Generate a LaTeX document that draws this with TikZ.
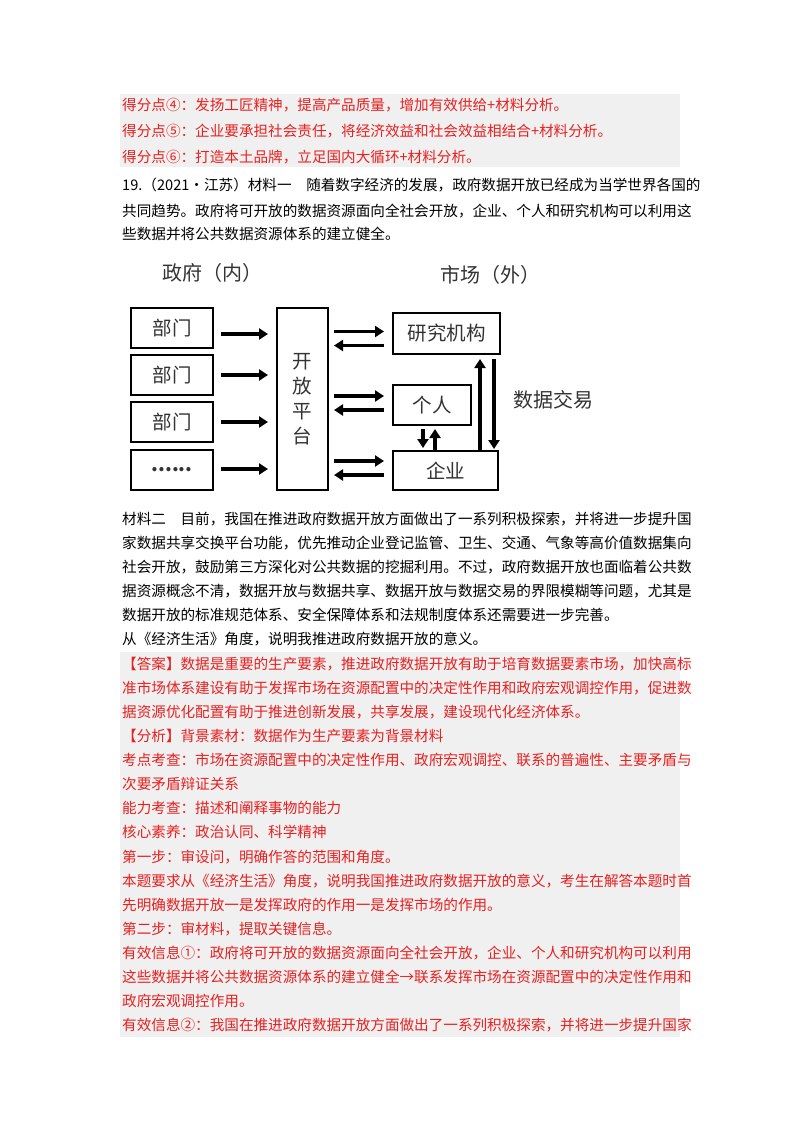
\documentclass[tikz,border=0pt]{standalone}
\usepackage{fontspec}
\setmainfont{Noto Sans CJK SC}
\newfontfamily\cjk{Noto Sans CJK SC}
\usetikzlibrary{arrows.meta}
\definecolor{ansred}{RGB}{232,32,32}
\definecolor{band}{RGB}{240,240,240}
\begin{document}
\begin{tikzpicture}[x=1pt,y=-1pt,
  rl/.style={anchor=west,inner sep=0,text=ansred,font=\cjk\fontsize{14.6}{15}\selectfont},
  bl/.style={anchor=west,inner sep=0,text=black,font=\cjk\fontsize{14.6}{15}\selectfont},
  box/.style={draw,line width=2pt,inner sep=0,font=\cjk\fontsize{19.5}{19.5}\selectfont,text=black!80},
  arr/.style={line width=3.2pt,-{Triangle[length=9pt,width=11pt]}}]
\useasboundingbox (0,0) rectangle (800,1132);
\fill[white] (0,0) rectangle (800,1132);
\fill[band] (120,94) rectangle (680,167);
\fill[band] (120,652) rectangle (680,1037);
% top lines
\node[rl] (t1) at (122,105) {得分点④：发扬工匠精神，提高产品质量，增加有效供给+材料分析。};
\node[rl] (t2) at (122,131) {得分点⑤：企业要承担社会责任，将经济效益和社会效益相结合+材料分析。};
\node[rl] (t3) at (122,157) {得分点⑥：打造本土品牌，立足国内大循环+材料分析。};
\node[bl] (q1) at (122,185) {19.（2021·江苏）材料一\quad 随着数字经济的发展，政府数据开放已经成为当学世界各国的};
\node[bl] (q2) at (122,211) {共同趋势。政府将可开放的数据资源面向全社会开放，企业、个人和研究机构可以利用这};
\node[bl] (q3) at (122,234) {些数据并将公共数据资源体系的建立健全。};
% diagram
\node[font=\cjk\fontsize{20}{20}\selectfont,text=black!80] (hg) at (212,273) {政府（内）};
\node[font=\cjk\fontsize{20}{20}\selectfont,text=black!80] (hm) at (490,275) {市场（外）};
\node[box,minimum width=82,minimum height=40] (b1) at (172,328) {部门};
\node[box,minimum width=82,minimum height=40] (b2) at (172,375) {部门};
\node[box,minimum width=82,minimum height=40] (b3) at (172,422) {部门};
\node[box,minimum width=82,minimum height=40] (b4) at (172,470) {\textbf{......}};
\node[box,minimum width=51,minimum height=182,align=center,font=\cjk\fontsize{19.5}{25}\selectfont] (pl) at (302.5,399) {开\\放\\平\\台};
\node[box,minimum width=107,minimum height=41] (r) at (446.5,333.5) {研究机构};
\node[box,minimum width=78,minimum height=40] (p) at (432,405) {个人};
\node[box,minimum width=105,minimum height=39] (e) at (445.5,470.5) {企业};
\node[font=\cjk\fontsize{20}{20}\selectfont,text=black!80] (dx) at (553,400) {数据交易};
\foreach \b/\dy in {b1/-6,b2/0,b3/0,b4/1}{
  \draw[arr] ([xshift=7,yshift=\dy]\b.east) -- ([xshift=-8,yshift=\dy]\b.east -| pl.west);
}
\foreach \n/\ya/\yb in {r/2/-12,p/9/-5,e/9.5/-4.5}{
  \draw[arr] ([xshift=5,yshift=\ya]\n.west -| pl.east) -- ([xshift=-8,yshift=\ya]\n.west);
  \draw[arr] ([xshift=-8,yshift=\yb]\n.west) -- ([xshift=5,yshift=\yb]\n.west -| pl.east);
}
\draw[arr] ([xshift=-9,yshift=-3]p.south) -- ([xshift=-9,yshift=2]p.south |- e.north);
\draw[arr] ([xshift=3,yshift=-1]p.south |- e.north) -- ([xshift=3,yshift=-3]p.south);
\draw[arr] ([xshift=34.5,yshift=-1]e.north) -- ([xshift=34.5,yshift=-4]e.north |- r.south);
\draw[arr] ([xshift=47.5,yshift=-4]r.south) -- ([xshift=47.5,yshift=1]r.south |- e.north);
% material 2
\node[bl] (m1) at (122,519) {材料二\quad 目前，我国在推进政府数据开放方面做出了一系列积极探索，并将进一步提升国};
\node[bl] (m2) at (122,543) {家数据共享交换平台功能，优先推动企业登记监管、卫生、交通、气象等高价值数据集向};
\node[bl] (m3) at (122,567) {社会开放，鼓励第三方深化对公共数据的挖掘利用。不过，政府数据开放也面临着公共数};
\node[bl] (m4) at (122,591) {据资源概念不清，数据开放与数据共享、数据开放与数据交易的界限模糊等问题，尤其是};
\node[bl] (m5) at (122,615) {数据开放的标准规范体系、安全保障体系和法规制度体系还需要进一步完善。};
\node[bl] (m6) at (122,639) {从《经济生活》角度，说明我推进政府数据开放的意义。};
% answer
\node[rl] (a1) at (122,664) {【答案】数据是重要的生产要素，推进政府数据开放有助于培育数据要素市场，加快高标};
\node[rl] (a2) at (122,688) {准市场体系建设有助于发挥市场在资源配置中的决定性作用和政府宏观调控作用，促进数};
\node[rl] (a3) at (122,712) {据资源优化配置有助于推进创新发展，共享发展，建设现代化经济体系。};
\node[rl] (a4) at (122,736) {【分析】背景素材：数据作为生产要素为背景材料};
\node[rl] (a5) at (122,760) {考点考查：市场在资源配置中的决定性作用、政府宏观调控、联系的普遍性、主要矛盾与};
\node[rl] (a6) at (122,784) {次要矛盾辩证关系};
\node[rl] (a7) at (122,808) {能力考查：描述和阐释事物的能力};
\node[rl] (a8) at (122,832) {核心素养：政治认同、科学精神};
\node[rl] (a9) at (122,857) {第一步：审设问，明确作答的范围和角度。};
\node[rl] (a10) at (122,881) {本题要求从《经济生活》角度，说明我国推进政府数据开放的意义，考生在解答本题时首};
\node[rl] (a11) at (122,905) {先明确数据开放一是发挥政府的作用一是发挥市场的作用。};
\node[rl] (a12) at (122,929) {第二步：审材料，提取关键信息。};
\node[rl] (a13) at (122,953) {有效信息①：政府将可开放的数据资源面向全社会开放，企业、个人和研究机构可以利用};
\node[rl] (a14) at (122,977) {这些数据并将公共数据资源体系的建立健全→联系发挥市场在资源配置中的决定性作用和};
\node[rl] (a15) at (122,1001) {政府宏观调控作用。};
\node[rl] (a16) at (122,1025) {有效信息②：我国在推进政府数据开放方面做出了一系列积极探索，并将进一步提升国家};
\end{tikzpicture}
\end{document}
